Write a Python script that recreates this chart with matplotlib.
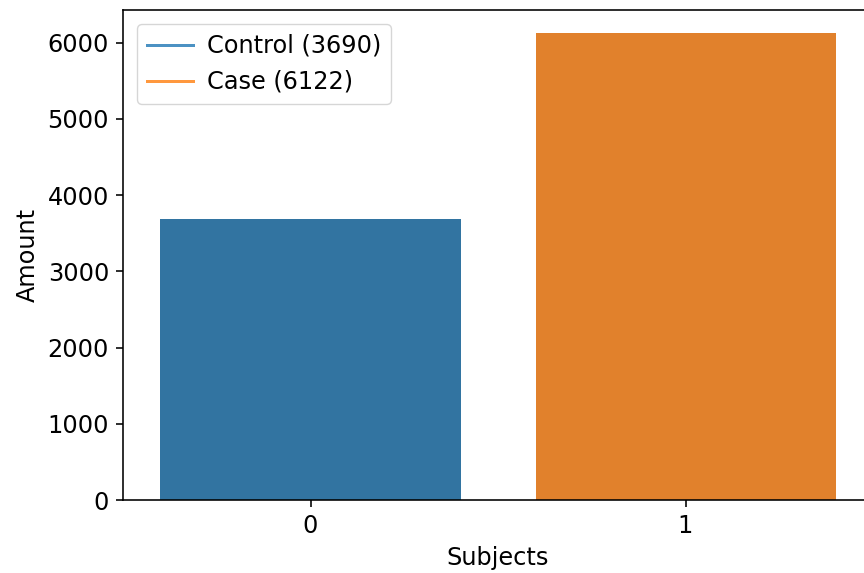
import numpy as np
import matplotlib.pyplot as plt
from matplotlib.lines import Line2D

# counts per subject group
groups = ["0", "1"]
counts = [3690, 6122]
labels = ["Control (3690)", "Case (6122)"]
bar_colors = ["#3274a1", "#e1812c"]
line_colors = ["#1f77b4", "#ff7f0e"]

s = 1.44  # scale from 72 dpi original
plt.rcParams.update({
    "font.size": 12 * s,
    "axes.linewidth": 0.8 * s,
    "xtick.major.width": 0.8 * s,
    "ytick.major.width": 0.8 * s,
    "xtick.major.size": 3.5 * s,
    "ytick.major.size": 3.5 * s,
    "xtick.major.pad": 3.5 * s,
    "ytick.major.pad": 3.5 * s,
    "axes.labelpad": 4 * s,
})

fig = plt.figure(figsize=(8.64, 5.73), dpi=100)
ax = fig.add_axes([123 / 864, 73 / 573, 750 / 864, 490 / 573])

x = np.arange(len(groups))
ax.bar(x, counts, width=0.8, color=bar_colors)
ax.set_xlim(-0.5, 1.5)
ax.set_ylim(0, max(counts) * 1.05)
ax.set_xticks(x)
ax.set_xticklabels(groups)
ax.set_xlabel("Subjects")
ax.set_ylabel("Amount")
# the original image is cut off at the right edge
ax.spines["right"].set_visible(False)

handles = [Line2D([], [], color=c, lw=1.5 * s, alpha=0.8) for c in line_colors]
ax.legend(handles, labels, loc="upper left", borderaxespad=0.6,
          handlelength=1.9, handletextpad=0.6)

fig.savefig("out.png", dpi=100)
